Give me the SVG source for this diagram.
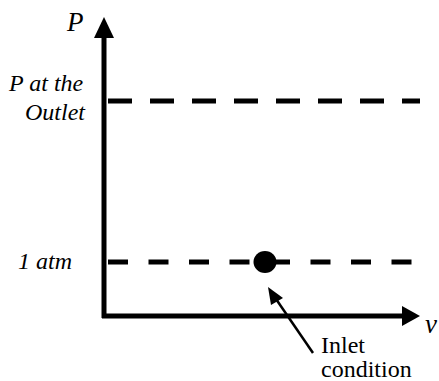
<svg xmlns="http://www.w3.org/2000/svg" width="439" height="381" viewBox="0 0 439 381">
<style>
.ax{stroke:#000;stroke-width:5;fill:none}
.dash{stroke:#000;stroke-width:5;fill:none}
text{font-family:"Liberation Serif","DejaVu Serif",serif;font-size:24px;fill:#000}
.i{font-style:italic}
</style>
<rect width="439" height="381" fill="#fff"/>
<g id="connectors">
<path class="ax" d="M104,318 V36"/>
<polygon points="104,17 94,38 114,38" fill="#000"/>
<path class="ax" d="M102,316 H404"/>
<polygon points="420,316 402,306 402,326" fill="#000"/>
<path class="dash" d="M108,101 H420" stroke-dasharray="24 18"/>
<path class="dash" d="M108,262 H421" stroke-dasharray="20 20.5"/>
<path d="M313,353 L276,299" stroke="#000" stroke-width="2.5" fill="none"/>
<polygon points="268,287 283,298 271,305" fill="#000"/>
</g>
<g id="inlet-point">
<ellipse cx="265" cy="262" rx="11.5" ry="11" fill="#000"/>
</g>
<g id="labels">
<text class="i" x="67" y="31" style="font-size:27px">P</text>
<text class="i" x="9" y="91">P at the</text>
<text class="i" x="25" y="120">Outlet</text>
<text class="i" x="18" y="269">1 atm</text>
<text class="i" x="425" y="333" style="font-size:27px">v</text>
<text x="321" y="353">Inlet</text>
<text x="321" y="377">condition</text>
</g>
</svg>
